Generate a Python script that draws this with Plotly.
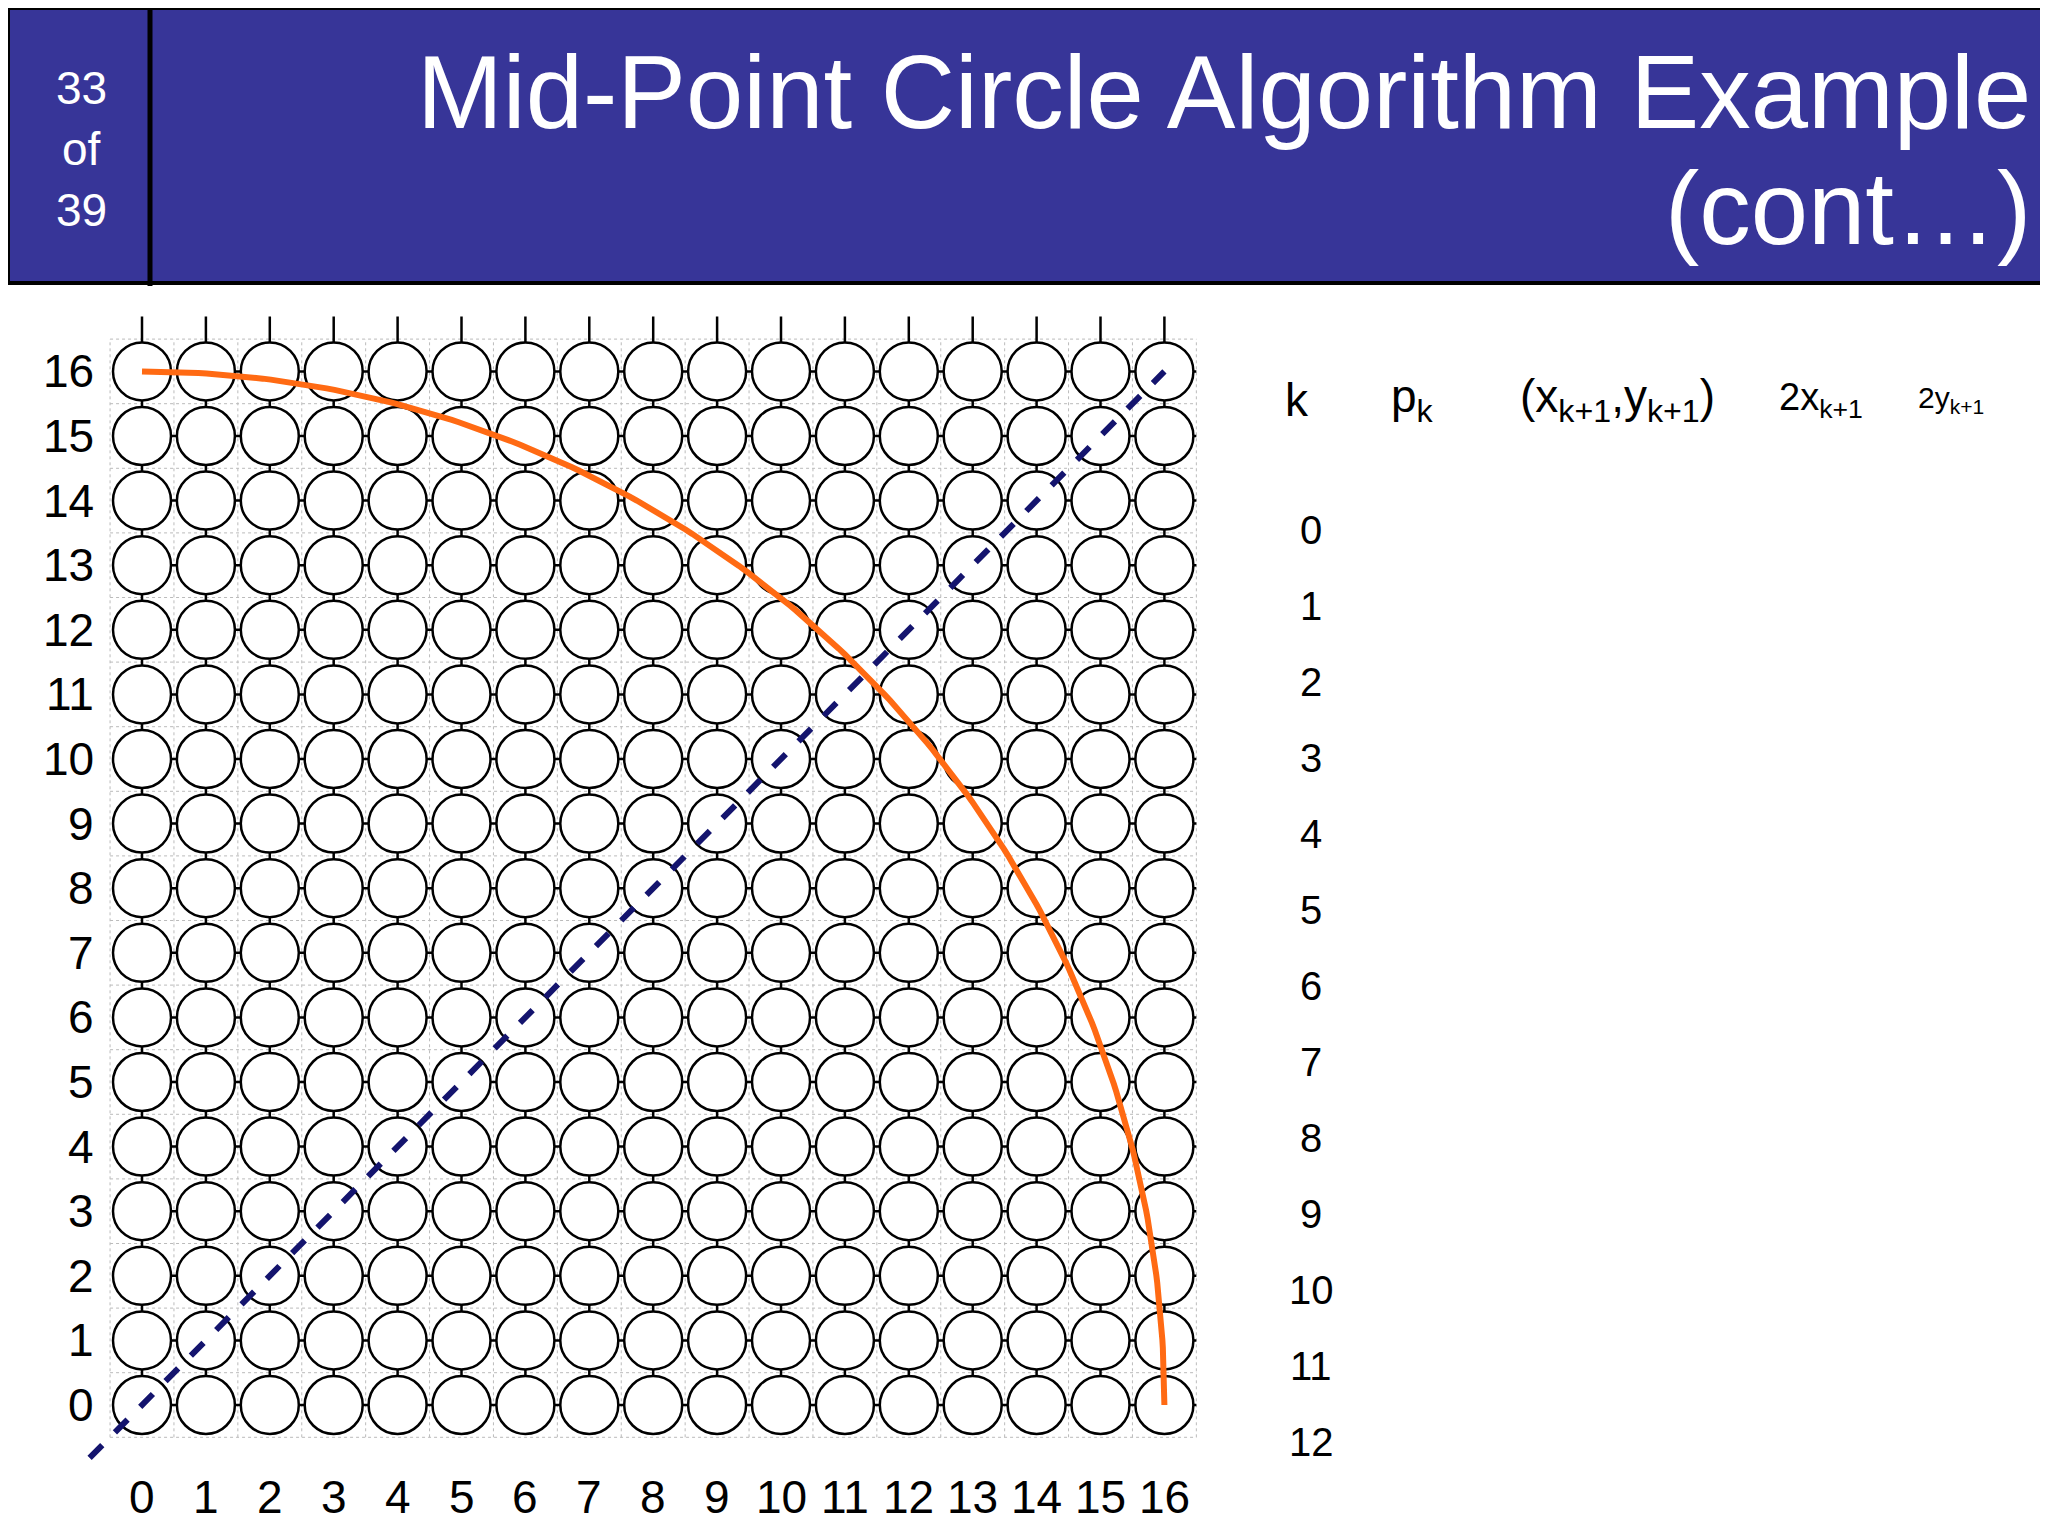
import numpy as np
import plotly.graph_objects as go

W, H = 2048, 1536
grid_vals = list(range(17))
tick_labels = [str(v) for v in grid_vals]
k_values = list(range(13))
headers = ["k", "p<sub>k</sub>", "(x<sub>k+1</sub>,y<sub>k+1</sub>)", "2x<sub>k+1</sub>", "2y<sub>k+1</sub>"]
header_x = [1289, 1404, 1609, 1813, 1943]
header_size = [46, 46, 46, 38, 30]
radius = 16
title_lines = ["Mid-Point Circle Algorithm Example", "(cont…)"]
slide_no = ["33", "of", "39"]

FONT = "Liberation Sans, Arial, sans-serif"
BLUE = "#373598"

x0p, dx = 134, 63.9
y0p, dy = 1397, 64.6
xr = [-1, 17]
yr = [-1.9, 17]
xdom = [(x0p + dx * xr[0]) / W, (x0p + dx * xr[1]) / W]
ydom = [(H - (y0p - dy * yr[0])) / H, (H - (y0p - dy * yr[1])) / H]

fig = go.Figure()

for v in np.arange(-0.5, 16.6, 1.0):
    fig.add_trace(go.Scatter(x=[v, v], y=[-0.5, 16.5], mode="lines",
                             line=dict(color="#bbbbbb", width=1, dash="dot"), hoverinfo="skip", showlegend=False))
    fig.add_trace(go.Scatter(x=[-0.5, 16.5], y=[v, v], mode="lines",
                             line=dict(color="#bbbbbb", width=1, dash="dot"), hoverinfo="skip", showlegend=False))
for v in grid_vals:
    fig.add_trace(go.Scatter(x=[v, v], y=[-0.3, 16.85], mode="lines",
                             line=dict(color="black", width=2.5), hoverinfo="skip", showlegend=False))
    fig.add_trace(go.Scatter(x=[-0.45, 16.5], y=[v, v], mode="lines",
                             line=dict(color="black", width=2.5), hoverinfo="skip", showlegend=False))

gx, gy = np.meshgrid(grid_vals, grid_vals)
fig.add_trace(go.Scatter(x=gx.ravel(), y=gy.ravel(), mode="markers",
                         marker=dict(size=58, color="white", line=dict(color="black", width=2.5)),
                         hoverinfo="skip", showlegend=False))

fig.add_trace(go.Scatter(x=[-0.82, 16], y=[-0.82, 16], mode="lines",
                         line=dict(color="#14146e", width=6, dash="dash"), showlegend=False))

t = np.linspace(0, np.pi / 2, 200)
fig.add_trace(go.Scatter(x=radius * np.sin(t), y=radius * np.cos(t), mode="lines",
                         line=dict(color="#ff6a13", width=6), showlegend=False))

ann = []
for v, lab in zip(grid_vals, tick_labels):
    ann.append(dict(x=-0.72, y=v, xref="x", yref="y", text=lab, showarrow=False,
                    xanchor="right", yanchor="middle",
                    font=dict(size=46, color="black", family=FONT)))
    ann.append(dict(x=v, y=-1.42, xref="x", yref="y", text=lab, showarrow=False,
                    xanchor="center", yanchor="middle",
                    font=dict(size=46, color="black", family=FONT)))

for t_, xp, fs in zip(headers, header_x, header_size):
    ann.append(dict(x=xp / W, y=1 - 392 / H, xref="paper", yref="paper", text=t_, showarrow=False,
                    xanchor="center", yanchor="middle",
                    font=dict(size=fs, color="black", family=FONT)))
for i, k in enumerate(k_values):
    yp = 522 + i * 76
    ann.append(dict(x=1303 / W, y=1 - yp / H, xref="paper", yref="paper", text=str(k), showarrow=False,
                    xanchor="center", yanchor="middle",
                    font=dict(size=40, color="black", family=FONT)))

for i, line in enumerate(title_lines):
    ann.append(dict(x=2025 / W, y=1 - [85, 200][i] / H, xref="paper", yref="paper", text=line,
                    showarrow=False, xanchor="right", yanchor="middle",
                    font=dict(size=103, color="white", family=FONT)))
for i, s in enumerate(slide_no):
    ann.append(dict(x=73 / W, y=1 - [80, 141, 202][i] / H, xref="paper", yref="paper", text=s,
                    showarrow=False, xanchor="center", yanchor="middle",
                    font=dict(size=46, color="white", family=FONT)))

shapes = [
    dict(type="rect", xref="paper", yref="paper", x0=0, x1=1, y0=1 - 275 / H, y1=1,
         fillcolor=BLUE, line=dict(color="black", width=4), layer="below"),
    dict(type="line", xref="paper", yref="paper", x0=142 / W, x1=142 / W, y0=1 - 278 / H, y1=1,
         line=dict(color="black", width=5)),
]

fig.update_layout(
    width=W, height=H, margin=dict(l=0, r=0, t=0, b=0),
    paper_bgcolor="white", plot_bgcolor="white",
    xaxis=dict(domain=xdom, range=xr, visible=False),
    yaxis=dict(domain=ydom, range=yr, visible=False),
    annotations=ann, shapes=shapes, showlegend=False,
)
fig.write_html("out.html")
